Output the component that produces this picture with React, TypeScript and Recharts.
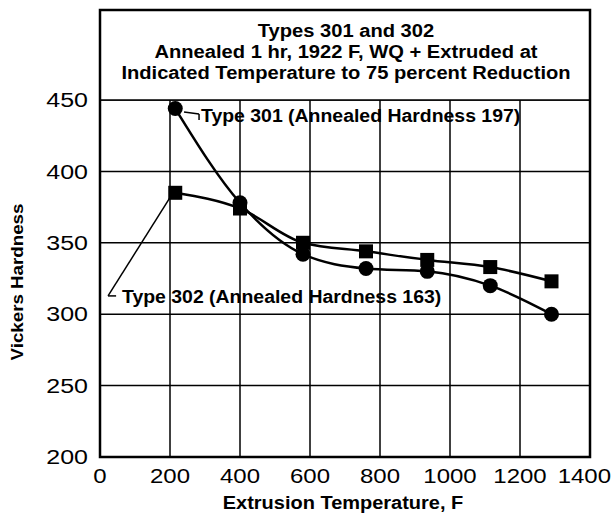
import {
  LineChart,
  Line,
  XAxis,
  YAxis,
  CartesianGrid,
  ReferenceArea,
  ReferenceLine,
} from "recharts";

const temps = [215, 400, 580, 760, 935, 1115, 1290];
const type301 = [444, 378, 342, 332, 330, 320, 300];
const type302 = [385, 374, 350, 344, 338, 333, 323];
const xTicks = [0, 200, 400, 600, 800, 1000, 1200, 1400];
const yTicks = [200, 250, 300, 350, 400, 450];
const titleLines = [
  "Types 301 and 302",
  "Annealed 1 hr, 1922 F, WQ + Extruded at",
  "Indicated Temperature to 75 percent Reduction",
];

const data = temps.map((t, i) => ({ temp: t, t301: type301[i], t302: type302[i] }));

const FONT = '"Liberation Sans", Arial, sans-serif';

const Square = (props: any) => {
  const { cx, cy } = props;
  if (cx == null || cy == null) return null;
  return <rect x={cx - 7} y={cy - 7} width={14} height={14} fill="#000" />;
};

const Circle = (props: any) => {
  const { cx, cy } = props;
  if (cx == null || cy == null) return null;
  return <circle cx={cx} cy={cy} r={7.5} fill="#000" />;
};

// wide-looking tick labels like the original print
const XTick = (props: any) => {
  const { x, y, payload, index } = props;
  const last = index === xTicks.length - 1;
  return (
    <g transform={`translate(${last ? 611 : x},${y + 18}) scale(1.2,1)`}>
      <text textAnchor={last ? "end" : "middle"} fontSize={20} fill="#000" fontFamily={FONT}>
        {payload.value}
      </text>
    </g>
  );
};

const YTick = (props: any) => {
  const { y, payload } = props;
  return (
    <g transform={`translate(88,${y}) scale(1.25,1)`}>
      <text textAnchor="end" dy="0.36em" fontSize={20} fill="#000" fontFamily={FONT}>
        {payload.value}
      </text>
    </g>
  );
};

const txt = (
  left: number,
  top: number,
  size: number,
  sx: number,
  centered = true,
  rotate = 0
): React.CSSProperties => ({
  position: "absolute",
  left,
  top,
  fontSize: size,
  fontWeight: "bold",
  whiteSpace: "nowrap",
  color: "#000",
  lineHeight: 1,
  transformOrigin: centered ? "center" : "left center",
  transform: centered
    ? `translate(-50%, -50%) rotate(${rotate}deg) scaleX(${sx})`
    : `translateY(-50%) scaleX(${sx})`,
});

export default function App() {
  return (
    <div
      style={{
        position: "absolute",
        left: 0,
        top: 0,
        width: 614,
        height: 517,
        background: "#fff",
        fontFamily: FONT,
      }}
    >
      <LineChart
        width={614}
        height={517}
        data={data}
        margin={{ top: 10, right: 24, left: 40, bottom: 30 }}
        style={{ fontFamily: FONT }}
      >
        <CartesianGrid stroke="#000" strokeWidth={1.5} />
        <XAxis
          type="number"
          dataKey="temp"
          domain={[0, 1400]}
          ticks={xTicks}
          height={30}
          tickLine={false}
          axisLine={false}
          tick={<XTick />}
          interval={0}
        />
        <YAxis
          type="number"
          domain={[200, 513]}
          ticks={yTicks}
          width={60}
          allowDataOverflow
          tickLine={false}
          axisLine={false}
          tick={<YTick />}
        />
        <ReferenceArea
          x1={0}
          x2={1400}
          y1={450}
          y2={513}
          fill="#fff"
          fillOpacity={1}
          stroke="#000"
          strokeWidth={1.5}
        />
        <ReferenceArea
          x1={0}
          x2={1400}
          y1={200}
          y2={513}
          fill="#fff"
          fillOpacity={0}
          stroke="#000"
          strokeWidth={2.5}
        />
        <ReferenceLine
          segment={[
            { x: 240, y: 441.6 },
            { x: 283, y: 440.2 },
          ]}
          stroke="#000"
          strokeWidth={1.5}
          ifOverflow="visible"
        />
        <ReferenceLine
          segment={[
            { x: 283, y: 440.2 },
            { x: 283, y: 436 },
          ]}
          stroke="#000"
          strokeWidth={1.5}
          ifOverflow="visible"
        />
        <ReferenceLine
          segment={[
            { x: 203, y: 382.8 },
            { x: 23, y: 312.8 },
          ]}
          stroke="#000"
          strokeWidth={1.5}
          ifOverflow="visible"
        />
        <ReferenceLine
          segment={[
            { x: 23, y: 312.8 },
            { x: 46, y: 312.8 },
          ]}
          stroke="#000"
          strokeWidth={1.5}
          ifOverflow="visible"
        />
        <Line
          type="monotone"
          dataKey="t301"
          stroke="#000"
          strokeWidth={2.5}
          dot={<Circle />}
          activeDot={false}
          isAnimationActive={false}
        />
        <Line
          type="monotone"
          dataKey="t302"
          stroke="#000"
          strokeWidth={2.5}
          dot={<Square />}
          activeDot={false}
          isAnimationActive={false}
        />
      </LineChart>

      {titleLines.map((line, i) => (
        <div key={i} style={txt(346, 31.5 + i * 21, 17.5, 1.15)}>
          {line}
        </div>
      ))}
      <div style={txt(201, 117, 17.5, 1.11, false)}>Type 301 (Annealed Hardness 197)</div>
      <div style={txt(122, 298, 17.5, 1.11, false)}>Type 302 (Annealed Hardness 163)</div>
      <div style={txt(18, 282, 16, 1.17, true, -90)}>Vickers Hardness</div>
      <div style={txt(343, 503, 18, 1.11)}>Extrusion Temperature, F</div>
    </div>
  );
}
